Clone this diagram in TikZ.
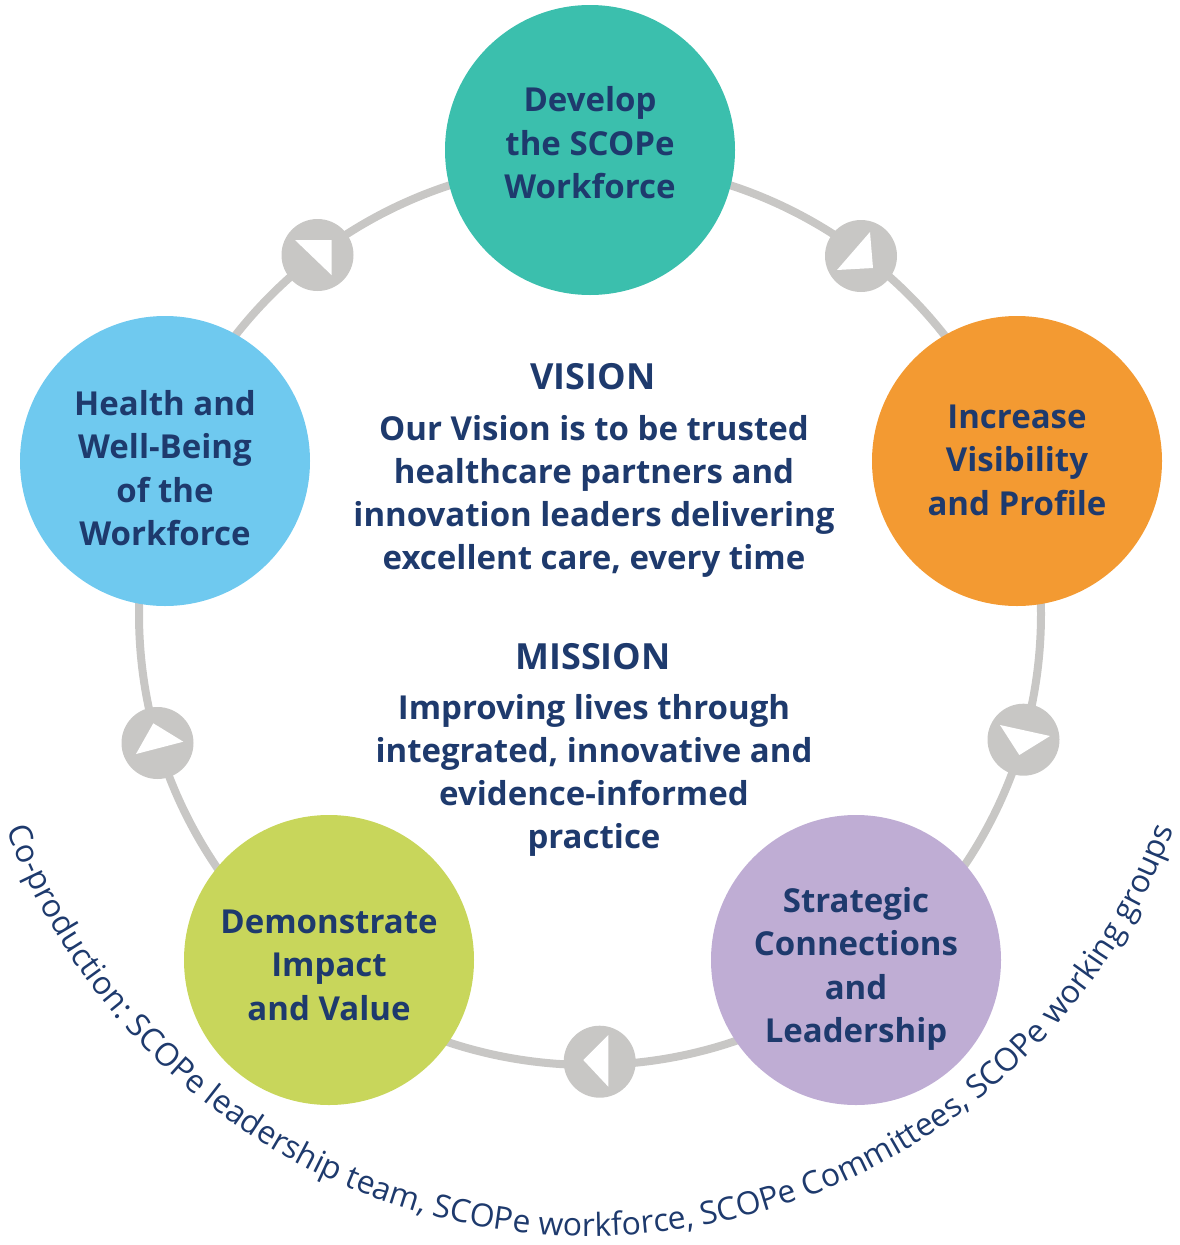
\documentclass[tikz,border=0pt]{standalone}
\usepackage{fontspec}
\setmainfont{Open Sans}
\usetikzlibrary{decorations.text}

\definecolor{navy}{HTML}{1E3A6D}
\definecolor{ringgray}{HTML}{C8C7C5}
\definecolor{cteal}{HTML}{3BBFAD}
\definecolor{corange}{HTML}{F39A32}
\definecolor{cblue}{HTML}{6FC9EF}
\definecolor{cgreen}{HTML}{C8D65B}
\definecolor{cpurple}{HTML}{BFADD4}

\tikzset{
  theme/.style={circle, minimum size=290pt, inner sep=0pt, align=center,
    text=navy, font=\bfseries\fontsize{33}{43.5}\selectfont},
  themetext/.style={align=center, text=navy, font=\bfseries\fontsize{33}{43.5}\selectfont},
  marker/.style={circle, fill=ringgray, minimum size=72pt, inner sep=0pt},
  arrowtri/.style={fill=white},
  statement/.style={align=center, text=navy, font=\bfseries\fontsize{33}{43}\selectfont},
  heading/.style={text=navy, font=\bfseries\fontsize{36}{36}\selectfont}
}

\begin{document}
\begin{tikzpicture}[x=1pt,y=1pt]
\useasboundingbox (0,0) rectangle (1180,-1245);

% ring joining the five themes
\coordinate (hub) at (590,-614);
\draw[ringgray, line width=8pt] (hub) circle[radius=451];

% direction markers on the ring
\node[marker] (m1) at (317.5,-255) {};
\node[marker] (m2) at (861,-256) {};
\node[marker] (m3) at (1023.5,-739.7) {};
\node[marker] (m4) at (599.7,-1061.7) {};
\node[marker] (m5) at (157.5,-743) {};
\fill[arrowtri] ([shift={(-22.5,15)}]m1.center) -- ([shift={(14,15)}]m1.center) -- ([shift={(14,-20)}]m1.center) -- cycle;
\fill[arrowtri] ([shift={(9,24)}]m2.center) -- ([shift={(12,-12)}]m2.center) -- ([shift={(-24,-14)}]m2.center) -- cycle;
\fill[arrowtri] ([shift={(-23.5,14.7)}]m3.center) -- ([shift={(26.5,3.7)}]m3.center) -- ([shift={(-4.2,-15.3)}]m3.center) -- cycle;
\fill[arrowtri] ([shift={(8.6,26.7)}]m4.center) -- ([shift={(-16.4,1.7)}]m4.center) -- ([shift={(8.6,-25)}]m4.center) -- cycle;
\fill[arrowtri] ([shift={(-4.2,19.7)}]m5.center) -- ([shift={(25.8,1.3)}]m5.center) -- ([shift={(-21.5,-11)}]m5.center) -- cycle;

% the five themes
\node[theme, fill=cteal] (develop) at (590,-150) {};
\node[theme, fill=corange] (visibility) at (1017,-461) {};
\node[theme, fill=cpurple] (strategic) at (856,-960) {};
\node[theme, fill=cgreen] (impact) at (329,-960) {};
\node[theme, fill=cblue] (health) at (165,-461) {};
\node[themetext] (developtext) at ([yshift=7]develop.center) {Develop\\the SCOPe\\Workforce};
\node[themetext] (visibilitytext) at ([yshift=1]visibility.center) {Increase\\Visibility\\and Profile};
\node[themetext] (strategictext) at ([yshift=-9]strategic.center) {Strategic\\Connections\\and\\Leadership};
\node[themetext] (impacttext) at ([yshift=-5]impact.center) {Demonstrate\\Impact\\and Value};
\node[themetext] (healthtext) at ([yshift=-7]health.center) {Health and\\Well-Being\\of the\\Workforce};

% vision and mission
\node[heading] (vision) at (593,-377) {VISION};
\node[statement] (visiontext) at (594,-496) {Our Vision is to be trusted\\healthcare partners and\\innovation leaders delivering\\excellent care, every time};
\node[heading] (mission) at (593,-657) {MISSION};
\node[statement] (missiontext) at (594,-775.5) {Improving lives through\\integrated, innovative and\\evidence-informed\\practice};

% co-production caption along the outer arc
\path[decorate, decoration={text along path, text align=center,
  text={|\fontsize{31.9}{33}\selectfont\color{navy}|Co-production: SCOPe leadership team, SCOPe workforce, SCOPe Committees, SCOPe working groups}}]
  (hub) ++(190:622) arc[start angle=190, end angle=350, radius=622];
\end{tikzpicture}
\end{document}
